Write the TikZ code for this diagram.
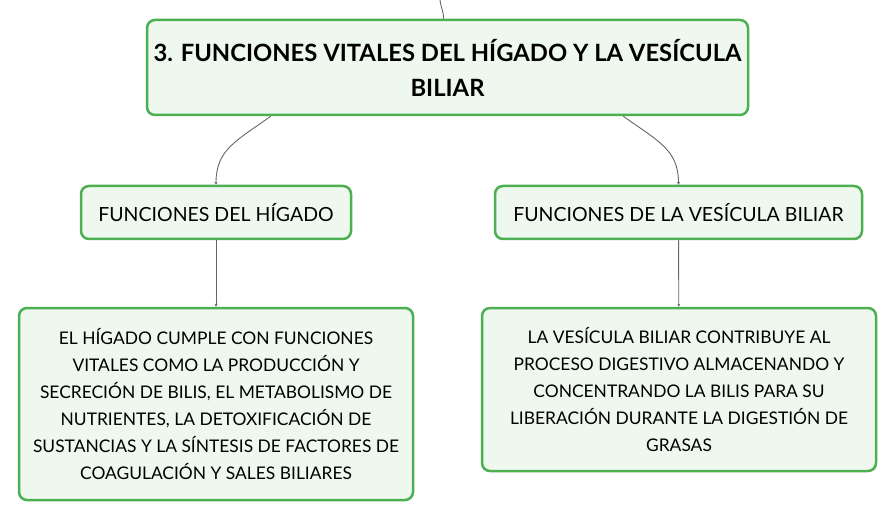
\documentclass[tikz,border=0pt]{standalone}
\usepackage{fontspec}
\setmainfont{Lato}
\usetikzlibrary{positioning,arrows.meta}
\definecolor{boxgreen}{HTML}{4CAF50}
\definecolor{boxfill}{HTML}{EFF8EF}
\definecolor{linkgray}{HTML}{666666}

\begin{document}
\begin{tikzpicture}[x=1pt,y=-1pt,
  box/.style={draw=boxgreen,fill=boxfill,line width=2.5pt,rounded corners=8pt,
    align=center,inner sep=0pt,text=black},
  link/.style={draw=linkgray,line width=0.9pt,-{Stealth[length=3pt,width=3pt]}}]
\useasboundingbox (0,0) rectangle (896,521);

% Define the boxes
\node[box,minimum width=601pt,minimum height=95pt,
  font=\fontsize{23.8}{35}\selectfont\bfseries] (main) at (447.5,67.5)
  {3. FUNCIONES VITALES DEL HÍGADO Y LA VESÍCULA\\BILIAR};
\node[box,minimum width=270pt,minimum height=53pt,
  font=\fontsize{19.5}{22}\selectfont] (higado) at (216,212.5)
  {FUNCIONES DEL HÍGADO};
\node[box,minimum width=367pt,minimum height=53pt,
  font=\fontsize{19.5}{22}\selectfont] (vesicula) at (678.5,212.5)
  {FUNCIONES DE LA VESÍCULA BILIAR};
\node[box,minimum width=394pt,minimum height=192pt,
  font=\fontsize{17.4}{27}\selectfont] (higadotxt) at (216,404)
  {EL HÍGADO CUMPLE CON FUNCIONES\\
   VITALES COMO LA PRODUCCIÓN Y\\
   SECRECIÓN DE BILIS, EL METABOLISMO DE\\
   NUTRIENTES, LA DETOXIFICACIÓN DE\\
   SUSTANCIAS Y LA SÍNTESIS DE FACTORES DE\\
   COAGULACIÓN Y SALES BILIARES};
\node[box,minimum width=394pt,minimum height=163pt,
  font=\fontsize{17.4}{27}\selectfont] (vesiculatxt) at (679,389.5)
  {LA VESÍCULA BILIAR CONTRIBUYE AL\\
   PROCESO DIGESTIVO ALMACENANDO Y\\
   CONCENTRANDO LA BILIS PARA SU\\
   LIBERACIÓN DURANTE LA DIGESTIÓN DE\\
   GRASAS};

% Draw the connectors
\coordinate (top) at (440,0);
\draw[draw=linkgray,line width=0.9pt] (top) .. controls +(1,8) and +(0,-8) .. ([xshift=-4pt]main.north);
\draw[link] ([xshift=125pt]main.south west) .. controls +(-35,25) and +(0,-35) .. (higado.north);
\draw[link] ([xshift=-126pt]main.south east) .. controls +(35,25) and +(0,-35) .. (vesicula.north);
\draw[link] (higado) -- (higadotxt);
\draw[link] (vesicula) -- (vesiculatxt);
\end{tikzpicture}
\end{document}
